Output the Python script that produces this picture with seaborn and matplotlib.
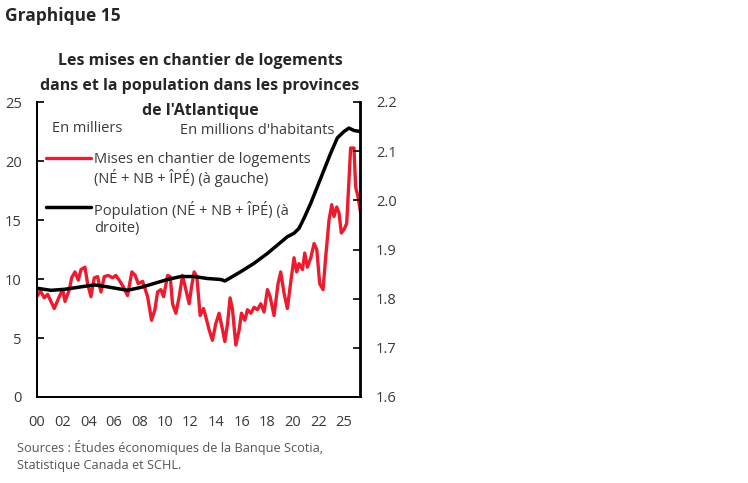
import numpy as np
import pandas as pd
import matplotlib
matplotlib.use("Agg")
import matplotlib.pyplot as plt
from matplotlib.legend_handler import HandlerLine2D
import seaborn as sns

# ---- data ----
starts_t = [2000.05, 2000.26, 2000.57, 2000.83, 2001.35, 2001.74, 2002.01, 2002.19, 2002.53, 2002.71,
            2002.97, 2003.23, 2003.44, 2003.75, 2003.96, 2004.22, 2004.48, 2004.74, 2005.00, 2005.26,
            2005.57, 2005.91, 2006.17, 2006.43, 2006.77, 2007.08, 2007.42, 2007.68, 2007.92, 2008.26,
            2008.65, 2008.96, 2009.22, 2009.43, 2009.69, 2009.90, 2010.21, 2010.42, 2010.60, 2010.86,
            2011.12, 2011.38, 2011.64, 2011.90, 2012.08, 2012.29, 2012.50, 2012.76, 2013.02, 2013.20,
            2013.46, 2013.72, 2013.98, 2014.24, 2014.51, 2014.69, 2014.90, 2015.10, 2015.29, 2015.55,
            2015.81, 2015.99, 2016.25, 2016.46, 2016.72, 2016.98, 2017.24, 2017.50, 2017.76, 2018.02,
            2018.23, 2018.54, 2018.85, 2019.06, 2019.32, 2019.58, 2019.90, 2020.10, 2020.31, 2020.49,
            2020.76, 2020.94, 2021.15, 2021.41, 2021.67, 2021.88, 2022.11, 2022.37, 2022.58, 2022.84,
            2023.05, 2023.23, 2023.44, 2023.62, 2023.80, 2024.01, 2024.22, 2024.40, 2024.53, 2024.79,
            2024.92, 2025.10, 2025.31]
starts_v = [8.6, 9.0, 8.4, 8.7, 7.5, 8.5, 9.1, 8.1, 9.1, 10.1,
            10.6, 9.9, 10.8, 11.0, 9.6, 8.5, 10.1, 10.2, 8.9, 10.2,
            10.3, 10.1, 10.3, 9.9, 9.3, 8.6, 10.6, 10.3, 9.6, 9.8,
            8.5, 6.5, 7.4, 8.9, 9.1, 8.5, 10.3, 10.2, 7.9, 7.1,
            8.5, 10.3, 9.1, 7.9, 9.3, 10.6, 10.2, 6.9, 7.5, 6.8,
            5.7, 4.8, 6.2, 7.1, 5.7, 4.7, 6.2, 8.4, 7.4, 4.4,
            5.7, 7.1, 6.5, 7.4, 7.1, 7.6, 7.4, 7.9, 7.2, 9.1,
            8.5, 6.9, 9.6, 10.6, 8.8, 7.5, 10.2, 11.8, 10.6, 11.3,
            10.8, 12.2, 11.0, 11.8, 13.0, 12.5, 9.6, 9.1, 11.9, 15.0,
            16.3, 15.3, 16.1, 15.6, 13.9, 14.2, 14.7, 18.4, 21.1, 21.1,
            17.8, 17.0, 15.6]

pop_t = [2000.05, 2001.09, 2002.14, 2003.18, 2004.48, 2005.52, 2007.08, 2008.13, 2009.17, 2010.21,
         2011.25, 2012.29, 2013.33, 2014.38, 2014.69, 2015.16, 2015.94, 2016.98, 2018.02, 2018.80,
         2019.58, 2020.10, 2020.49, 2020.89, 2021.41, 2021.93, 2022.45, 2022.97, 2023.49, 2024.01,
         2024.40, 2024.79, 2025.31]
pop_v = [1.821, 1.817, 1.819, 1.823, 1.828, 1.824, 1.817, 1.823, 1.831, 1.839,
         1.845, 1.845, 1.841, 1.839, 1.836, 1.843, 1.855, 1.872, 1.892, 1.909,
         1.926, 1.933, 1.943, 1.964, 1.994, 2.028, 2.062, 2.096, 2.127, 2.140,
         2.147, 2.142, 2.140]

xtick_pos = [2000, 2002, 2004, 2006, 2008, 2010, 2012, 2014, 2016, 2018, 2020, 2022, 2024]
xtick_lab = ["00", "02", "04", "06", "08", "10", "12", "14", "16", "18", "20", "22", "25"]
left_ticks = [0, 5, 10, 15, 20, 25]
right_ticks = [1.6, 1.7, 1.8, 1.9, 2.0, 2.1, 2.2]

lab_starts = "Mises en chantier de logements\n(NÉ + NB + ÎPÉ) (à gauche)"
lab_pop = "Population (NÉ + NB + ÎPÉ) (à\ndroite)"

RED = "#EC1C2E"
TXT = "#3a3a3a"
FS = 10.5


class TopLineHandler(HandlerLine2D):
    """Legend handle aligned with the first line of a two-line label."""
    def __init__(self, shift, **kw):
        super().__init__(**kw)
        self.shift = shift

    def create_artists(self, legend, orig_handle, xdescent, ydescent, width, height, fontsize, trans):
        return super().create_artists(legend, orig_handle, xdescent, ydescent - 2 * self.shift,
                                      width, height, fontsize, trans)


sns.set_style("white")
plt.rcParams["font.family"] = ["Open Sans", "DejaVu Sans"]

fig = plt.figure(figsize=(7.48, 4.83), dpi=100)
ax = fig.add_axes([37 / 748, 1 - 397 / 483, (360.5 - 37) / 748, (397 - 102) / 483])
ax2 = ax.twinx()

df_s = pd.DataFrame({"t": starts_t, "v": starts_v})
df_p = pd.DataFrame({"t": pop_t, "v": pop_v})
sns.lineplot(data=df_s, x="t", y="v", ax=ax, color=RED, linewidth=2.4, label=lab_starts, legend=False)
sns.lineplot(data=df_p, x="t", y="v", ax=ax2, color="black", linewidth=2.5, label=lab_pop, legend=False)

ax.set_xlim(2000, 2025.3)
ax.set_ylim(0, 25)
ax2.set_ylim(1.6, 2.2)
ax.set_xticks(xtick_pos)
ax.set_xticklabels(xtick_lab)
ax.set_yticks(left_ticks)
ax.set_yticklabels([str(v) for v in left_ticks])
ax2.set_yticks(right_ticks)
ax2.set_yticklabels([f"{v:.1f}" for v in right_ticks])
for a in (ax, ax2):
    a.set_xlabel("")
    a.set_ylabel("")
    a.grid(False)
    a.spines["top"].set_visible(False)
    for s in ("left", "right", "bottom"):
        a.spines[s].set_color("black")
        a.spines[s].set_linewidth(1.3)
    a.tick_params(direction="in", length=5, width=1.2, colors="black", labelcolor=TXT, labelsize=10.5)
ax.tick_params(axis="y", pad=11)
ax.tick_params(axis="x", pad=13)
ax2.tick_params(axis="y", pad=11)

ax.text(0.047, 0.91, "En milliers", transform=ax.transAxes, fontsize=FS, color=TXT, va="center")
ax.text(0.92, 0.905, "En millions d'habitants", transform=ax.transAxes, fontsize=FS, color=TXT,
        va="center", ha="right")

h1, l1 = ax.get_legend_handles_labels()
h2, l2 = ax2.get_legend_handles_labels()
hmap = {h1[0]: TopLineHandler(8.5), h2[0]: TopLineHandler(8.5)}
leg = ax2.legend(h1 + h2, l1 + l2, loc="upper left", bbox_to_anchor=(0.028, 0.832), frameon=False,
                 fontsize=FS, handlelength=3.1, handletextpad=0.2, labelspacing=0.95,
                 borderaxespad=0, borderpad=0, handler_map=hmap)
for t in leg.get_texts():
    t.set_color(TXT)
    t.set_linespacing(1.17)

fig.text(5 / 748, 1 - 16 / 483, "Graphique 15", fontsize=12.5, fontweight="bold", va="center", ha="left")
fig.text(200 / 748, 1 - 86 / 483,
         "Les mises en chantier de logements\ndans et la population dans les provinces\nde l'Atlantique",
         fontsize=11.5, fontweight="bold", ha="center", va="center", linespacing=1.75)
fig.text(17 / 748, 1 - 456 / 483,
         "Sources : Études économiques de la Banque Scotia,\nStatistique Canada et SCHL.",
         fontsize=9.2, color="#555555", ha="left", va="center", linespacing=1.45)

fig.savefig("out.png", dpi=100)
